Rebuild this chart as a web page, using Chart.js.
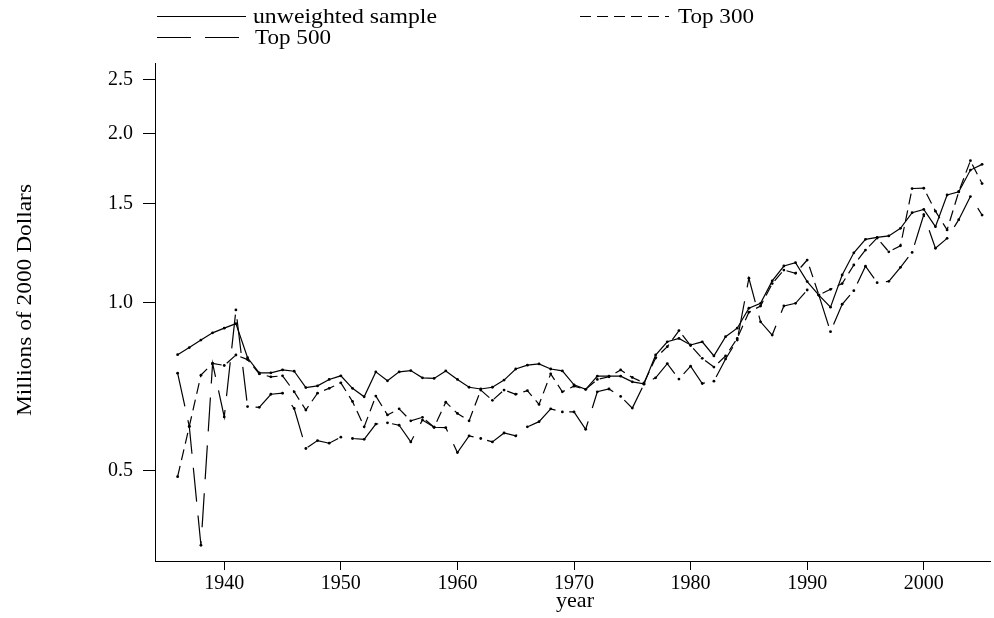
<!DOCTYPE html>
<html>
<head>
<meta charset="utf-8">
<script src="https://cdn.jsdelivr.net/npm/chart.js@4.4.0/dist/chart.umd.min.js"></script>
<style>
  html, body { margin: 0; padding: 0; background: #fff; }
  #chart { display: block; }
</style>
</head>
<body>
<canvas id="chart" width="994" height="618"></canvas>
<script>
// values (millions of 2000 dollars, log axis)
const years = [
  1936, 1937, 1938, 1939, 1940, 1941, 1942, 1943, 1944, 1945,
  1946, 1947, 1948, 1949, 1950, 1951, 1952, 1953, 1954, 1955,
  1956, 1957, 1958, 1959, 1960, 1961, 1962, 1963, 1964, 1965,
  1966, 1967, 1968, 1969, 1970, 1971, 1972, 1973, 1974, 1975,
  1976, 1977, 1978, 1979, 1980, 1981, 1982, 1983, 1984, 1985,
  1986, 1987, 1988, 1989, 1990, 1991, 1992, 1993, 1994, 1995,
  1996, 1997, 1998, 1999, 2000, 2001, 2002, 2003, 2004, 2005
];

const unweighted = [
  0.806, 0.830, 0.856, 0.882, 0.899, 0.916, 0.796, 0.748, 0.748, 0.757,
  0.753, 0.704, 0.709, 0.728, 0.739, 0.702, 0.678, 0.751, 0.724, 0.751,
  0.755, 0.733, 0.731, 0.754, 0.728, 0.705, 0.700, 0.705, 0.726, 0.760,
  0.772, 0.776, 0.760, 0.754, 0.712, 0.699, 0.738, 0.738, 0.738, 0.721,
  0.715, 0.805, 0.850, 0.862, 0.839, 0.850, 0.802, 0.868, 0.899, 0.976,
  0.996, 1.092, 1.161, 1.177, 1.089, 1.030, 0.980, 1.119, 1.226, 1.296,
  1.306, 1.314, 1.356, 1.446, 1.466, 1.365, 1.555, 1.576, 1.723, 1.764
];

const top300 = [
  0.488, 0.600, 0.741, 0.778, 0.771, 0.805, 0.790, 0.745, 0.736, 0.739,
  0.692, 0.642, 0.688, 0.702, 0.718, 0.665, 0.599, 0.680, 0.629, 0.645,
  0.614, 0.623, 0.598, 0.663, 0.633, 0.614, 0.697, 0.668, 0.697, 0.685,
  0.695, 0.657, 0.745, 0.692, 0.708, 0.699, 0.728, 0.736, 0.757, 0.734,
  0.718, 0.795, 0.833, 0.890, 0.837, 0.794, 0.766, 0.802, 0.862, 0.960,
  0.985, 1.080, 1.142, 1.127, 1.190, 1.030, 1.055, 1.080, 1.166, 1.240,
  1.303, 1.231, 1.262, 1.597, 1.599, 1.455, 1.347, 1.576, 1.791, 1.630
];

const top500 = [
  0.747, 0.600, 0.368, 0.778, 0.624, 0.969, 0.651, 0.649, 0.685, 0.688,
  0.646, 0.548, 0.566, 0.560, 0.574, 0.571, 0.569, 0.606, 0.609, 0.603,
  0.563, 0.616, 0.598, 0.597, 0.539, 0.577, 0.571, 0.563, 0.584, 0.577,
  0.599, 0.612, 0.645, 0.637, 0.637, 0.593, 0.692, 0.700, 0.679, 0.647,
  0.714, 0.733, 0.777, 0.729, 0.769, 0.716, 0.723, 0.792, 0.856, 1.104,
  0.923, 0.874, 0.985, 0.996, 1.052, 1.030, 0.886, 0.992, 1.049, 1.160,
  1.084, 1.090, 1.155, 1.228, 1.434, 1.249, 1.301, 1.405, 1.545, 1.432
];

const yTicks = [0.5, 1.0, 1.5, 2.0, 2.5];
const xTicks = [1940, 1950, 1960, 1970, 1980, 1990, 2000];

const FONT = "'Liberation Serif', 'Times New Roman', serif";

const series = [
  { label: 'unweighted sample', values: unweighted, dash: [] },
  { label: 'Top 300', values: top300, dash: [11, 6] },
  { label: 'Top 500', values: top500, dash: [34, 14] }
];

const toPoints = (vals) => vals.map((v, i) => ({ x: years[i], y: v }));

// squeeze a text run to the width it has in the original
const fitText = (ctx, text, x, y, width) => {
    const w = ctx.measureText(text).width;
    ctx.save();
    ctx.translate(x, y);
    ctx.scale(width / w, 1);
    ctx.fillText(text, 0, 0);
    ctx.restore();
};

// legend rows and axis titles, drawn by hand to get the Stata-like layout
const legendAndTitles = {
    id: 'legendAndTitles',
    afterDraw(chart) {
        const ctx = chart.ctx;
        const items = [
            { x: 157, y: 16.5, tx: 253, ty: 23, w: 184 },
            { x: 580, y: 16.5, tx: 678, ty: 23, w: 76 },
            { x: 157, y: 37.5, tx: 255, ty: 44, w: 76 }
        ];
        ctx.save();
        ctx.fillStyle = '#000';
        ctx.strokeStyle = '#000';
        ctx.textAlign = 'left';
        ctx.textBaseline = 'alphabetic';
        ctx.font = '22px ' + FONT;
        items.forEach((it, i) => {
            const ds = chart.data.datasets[i];
            ctx.lineWidth = 1.2;
            ctx.setLineDash(ds.borderDash || []);
            ctx.beginPath();
            ctx.moveTo(it.x, it.y);
            ctx.lineTo(it.x + 89, it.y);
            ctx.stroke();
            ctx.setLineDash([]);
            fitText(ctx, ds.label, it.tx, it.ty, it.w);
        });

        // x title
        fitText(ctx, 'year', 556, 607, 38);

        // y title, rotated
        ctx.save();
        ctx.translate(31, 416);
        ctx.rotate(-Math.PI / 2);
        fitText(ctx, 'Millions of 2000 Dollars', 0, 0, 232);
        ctx.restore();
        ctx.restore();
    }
};

const ctx = document.getElementById('chart').getContext('2d');

const chart = new Chart(ctx, {
    type: 'line',
    data: {
        datasets: series.map(s => ({
            label: s.label,
            data: toPoints(s.values),
            borderColor: '#000',
            borderWidth: 1.2,
            borderDash: s.dash,
            pointRadius: 1.4,
            pointBackgroundColor: '#000',
            pointBorderWidth: 0,
            tension: 0,
            fill: false
        }))
    },
    options: {
        responsive: false,
        animation: false,
        devicePixelRatio: 1,
        layout: { padding: { top: 63, right: 1, left: 0, bottom: 0 } },
        plugins: {
            legend: { display: false },
            title: { display: false },
            tooltip: { enabled: false }
        },
        scales: {
            x: {
                type: 'linear',
                min: 1934.06,
                max: 2005.68,
                bounds: 'data',
                afterBuildTicks: (scale) => { scale.ticks = xTicks.map(v => ({ value: v })); },
                afterFit: (scale) => { scale.height = 57; },
                grid: { display: true, drawOnChartArea: false, drawTicks: true, tickLength: 9, color: '#000' },
                border: { display: true, color: '#000', width: 1 },
                ticks: {
                    color: '#000',
                    font: { family: FONT, size: 20 },
                    padding: 2,
                    maxRotation: 0,
                    callback: (v) => String(v)
                }
            },
            y: {
                type: 'logarithmic',
                min: 0.3449,
                max: 2.677,
                bounds: 'data',
                afterBuildTicks: (scale) => { scale.ticks = yTicks.map(v => ({ value: v })); },
                afterFit: (scale) => { scale.width = 155; },
                grid: { display: true, drawOnChartArea: false, drawTicks: true, tickLength: 12, color: '#000' },
                border: { display: true, color: '#000', width: 1 },
                ticks: {
                    color: '#000',
                    font: { family: FONT, size: 20 },
                    padding: 10,
                    callback: (v) => Number(v).toFixed(1)
                }
            }
        }
    },
    plugins: [legendAndTitles]
});
</script>
</body>
</html>
